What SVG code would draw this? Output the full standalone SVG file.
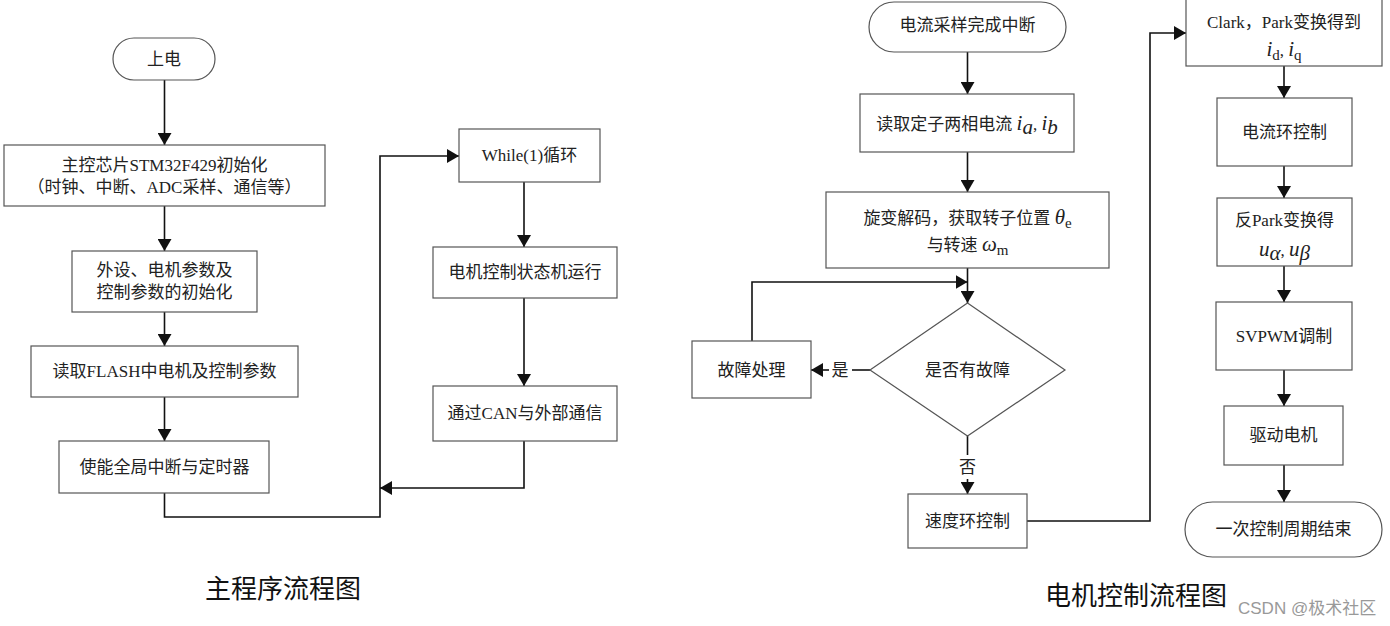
<svg xmlns="http://www.w3.org/2000/svg" width="1390" height="626" viewBox="0 0 1390 626">
<style>
.box{fill:#fff;stroke:#555;stroke-width:1.2}
.t{font-family:"Liberation Serif","Noto Sans CJK SC",serif;font-size:17px;fill:#222;text-anchor:middle}
.m{font-family:"Liberation Serif",serif;font-style:italic;font-size:21px}
.s{font-family:"Liberation Serif",serif;font-size:15px}
.c{fill:none;stroke:#111;stroke-width:1.6}
.title{font-family:"Noto Sans CJK SC",sans-serif;font-size:26px;fill:#111}
.wm{font-family:"Liberation Sans","Noto Sans CJK SC",sans-serif;font-size:17px;fill:#999}
</style>
<defs>
<marker id="ah" viewBox="0 0 12 14" refX="12" refY="7" markerWidth="12" markerHeight="14" markerUnits="userSpaceOnUse" orient="auto"><path d="M0,0 L12,7 L0,14 z" fill="#111"/></marker>
</defs>
<rect width="1390" height="626" fill="#fff"/>

<g id="connectors">
<path class="c" d="M164.5,80 V145" marker-end="url(#ah)"/>
<path class="c" d="M164.5,206 V251" marker-end="url(#ah)"/>
<path class="c" d="M164.5,312 V346" marker-end="url(#ah)"/>
<path class="c" d="M164.5,397 V441" marker-end="url(#ah)"/>
<path class="c" d="M164.5,493 V517 H380 V156 H459" marker-end="url(#ah)"/>
<path class="c" d="M524,182 V247" marker-end="url(#ah)"/>
<path class="c" d="M524,298 V386" marker-end="url(#ah)"/>
<path class="c" d="M524,441 V488 H380" marker-end="url(#ah)"/>
<path class="c" d="M967.5,52 V94" marker-end="url(#ah)"/>
<path class="c" d="M967.5,152 V192" marker-end="url(#ah)"/>
<path class="c" d="M967.5,268 V303" marker-end="url(#ah)"/>
<path class="c" d="M752,341 V282 H967.5" marker-end="url(#ah)"/>
<path class="c" d="M870,370 H852"/>
<path class="c" d="M829,370 H811" marker-end="url(#ah)"/>
<path class="c" d="M967.5,436 V455"/>
<path class="c" d="M967.5,479 V494" marker-end="url(#ah)"/>
<path class="c" d="M1027,521 H1150 V33 H1186" marker-end="url(#ah)"/>
<path class="c" d="M1284,66 V98" marker-end="url(#ah)"/>
<path class="c" d="M1284,166 V198" marker-end="url(#ah)"/>
<path class="c" d="M1284,266 V302" marker-end="url(#ah)"/>
<path class="c" d="M1284,370 V406" marker-end="url(#ah)"/>
<path class="c" d="M1284,465 V502" marker-end="url(#ah)"/>
<text class="t" x="840" y="376">是</text>
<text class="t" x="967.5" y="473">否</text>
</g>

<g id="n_power">
<rect class="box" x="113" y="38" width="102" height="42" rx="21"/>
<text class="t" x="164" y="65">上电</text>
</g>
<g id="n_init">
<rect class="box" x="4" y="145" width="321" height="61"/>
<text class="t" x="164.5" y="171">主控芯片STM32F429初始化</text>
<text class="t" x="164.5" y="193">（时钟、中断、ADC采样、通信等）</text>
</g>
<g id="n_periph">
<rect class="box" x="72" y="251" width="185" height="61"/>
<text class="t" x="164.5" y="276">外设、电机参数及</text>
<text class="t" x="164.5" y="298">控制参数的初始化</text>
</g>
<g id="n_flash">
<rect class="box" x="31" y="346" width="267" height="51"/>
<text class="t" x="164.5" y="377">读取FLASH中电机及控制参数</text>
</g>
<g id="n_enable">
<rect class="box" x="59" y="441" width="210" height="52"/>
<text class="t" x="164.5" y="473">使能全局中断与定时器</text>
</g>
<g id="n_while">
<rect class="box" x="459" y="129" width="141" height="53"/>
<text class="t" x="529.5" y="161">While(1)循环</text>
</g>
<g id="n_state">
<rect class="box" x="433" y="247" width="184" height="51"/>
<text class="t" x="525" y="278">电机控制状态机运行</text>
</g>
<g id="n_can">
<rect class="box" x="433" y="386" width="184" height="55"/>
<text class="t" x="525" y="419">通过CAN与外部通信</text>
</g>

<g id="n_irq">
<rect class="box" x="869" y="2" width="197" height="50" rx="25"/>
<text class="t" x="967.5" y="31">电流采样完成中断</text>
</g>
<g id="n_read">
<rect class="box" x="860" y="94" width="214" height="58"/>
<text class="t" x="967" y="130">读取定子两相电流 <tspan class="m">i</tspan><tspan class="m" font-size="15" dy="4">a</tspan><tspan dy="-4">, </tspan><tspan class="m">i</tspan><tspan class="m" font-size="15" dy="4">b</tspan></text>
</g>
<g id="n_resolver">
<rect class="box" x="826" y="192" width="283" height="76"/>
<text class="t" x="967.5" y="224">旋变解码，获取转子位置 <tspan class="m">θ</tspan><tspan class="s" dy="4">e</tspan></text>
<text class="t" x="967.5" y="251">与转速 <tspan class="m">ω</tspan><tspan class="s" dy="4">m</tspan></text>
</g>
<g id="n_fault_q">
<polygon class="box" points="967.5,303 1065,370 967.5,436 870,370"/>
<text class="t" x="967.5" y="376">是否有故障</text>
</g>
<g id="n_fault">
<rect class="box" x="692" y="341" width="119" height="57"/>
<text class="t" x="751.5" y="376">故障处理</text>
</g>
<g id="n_speed">
<rect class="box" x="908" y="494" width="119" height="54"/>
<text class="t" x="967.5" y="527">速度环控制</text>
</g>
<g id="n_clark">
<rect class="box" x="1186" y="-1" width="196" height="67"/>
<text class="t" x="1284" y="28">Clark，Park变换得到</text>
<text class="t" x="1284" y="56"><tspan class="m">i</tspan><tspan class="s" dy="4">d</tspan><tspan dy="-4">, </tspan><tspan class="m">i</tspan><tspan class="s" dy="4">q</tspan></text>
</g>
<g id="n_current">
<rect class="box" x="1217" y="98" width="135" height="68"/>
<text class="t" x="1284.5" y="138">电流环控制</text>
</g>
<g id="n_ipark">
<rect class="box" x="1217" y="198" width="135" height="68"/>
<text class="t" x="1284.5" y="226">反Park变换得</text>
<text class="t" x="1284.5" y="256"><tspan class="m">u</tspan><tspan class="m" font-size="15" dy="4">α</tspan><tspan dy="-4">, </tspan><tspan class="m">u</tspan><tspan class="m" font-size="15" dy="4">β</tspan></text>
</g>
<g id="n_svpwm">
<rect class="box" x="1216" y="302" width="136" height="68"/>
<text class="t" x="1284" y="342">SVPWM调制</text>
</g>
<g id="n_drive">
<rect class="box" x="1224" y="406" width="119" height="59"/>
<text class="t" x="1283.5" y="441">驱动电机</text>
</g>
<g id="n_end">
<rect class="box" x="1185" y="502" width="197" height="55" rx="27.5"/>
<text class="t" x="1283.5" y="535">一次控制周期结束</text>
</g>

<text class="title" x="205" y="598">主程序流程图</text>
<text class="title" x="1045" y="605">电机控制流程图</text>
<text class="wm" x="1238" y="614">CSDN @极术社区</text>
</svg>
